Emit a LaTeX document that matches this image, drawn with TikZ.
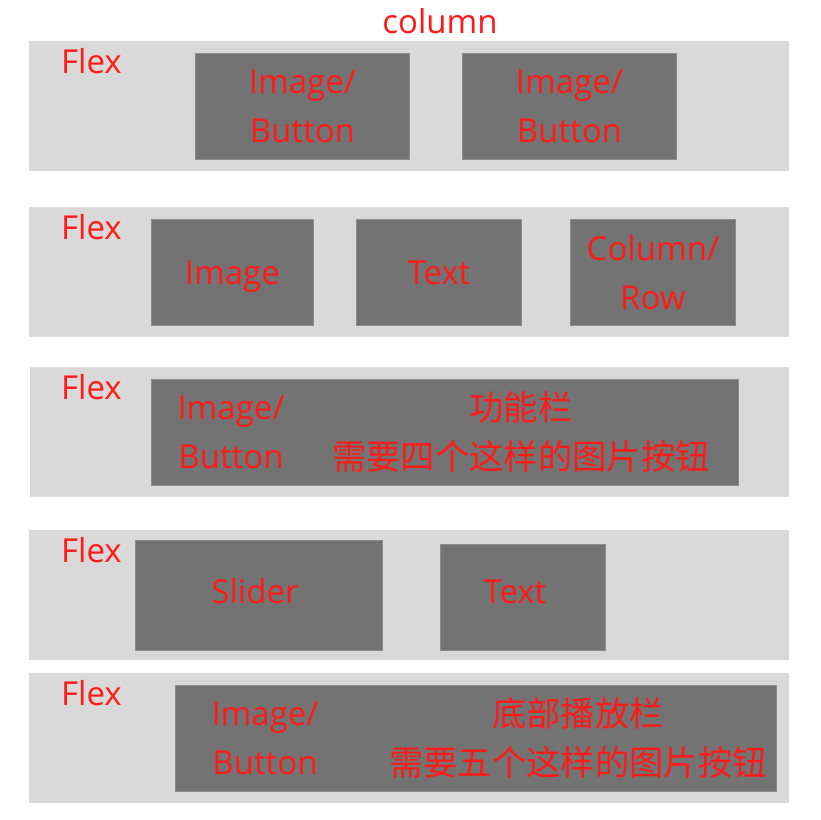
\documentclass[tikz,border=0pt]{standalone}
\usepackage{fontspec}
\setmainfont{Open Sans}
\newfontfamily\cjk[Scale=1.04]{Noto Sans CJK SC}
\usepackage{tikz}
\usetikzlibrary{positioning}
\definecolor{flexgray}{HTML}{D9D9D9}
\definecolor{boxgray}{HTML}{737373}
\definecolor{edgegray}{HTML}{8C8C8C}
\definecolor{textred}{HTML}{FF1A1A}
\tikzstyle{flex} = [rectangle, fill=flexgray, draw=none, minimum width=760pt, minimum height=130pt, anchor=north west, inner sep=0pt]
\tikzstyle{element} = [rectangle, fill=boxgray, draw=edgegray, line width=0.8pt, anchor=north west, inner sep=0pt, minimum height=106pt]
\tikzstyle{redtext} = [text=textred, font=\fontsize{33}{49}\selectfont, align=center, inner sep=0pt]
\tikzstyle{oneline} = [text height=24pt, text depth=0pt]
\tikzstyle{flexname} = [redtext, anchor=base west]

\begin{document}
\begin{tikzpicture}
			[x=1pt, y=-1pt]
			\useasboundingbox (0,0) rectangle (820,820);
			\node[redtext, anchor=base] (title) at (440,33) {column};
			
			% row 1
			\node[flex] (rowA) at (29,41) {};
			\node[flexname] (flexA) at (61,73) {Flex};
			\node[element, redtext, minimum width=214pt] (btnA) at (195,53) {Image/\\Button};
			\node[element, redtext, minimum width=214pt] (btnB) at (462,53) {Image/\\Button};
			
			% row 2
			\node[flex] (rowB) at (29,207) {};
			\node[flexname] (flexB) at (61,239) {Flex};
			\node[element, redtext, oneline, minimum width=162pt] (image) at (151,219) {Image};
			\node[element, redtext, oneline, minimum width=165pt] (textA) at (356,219) {Text};
			\node[element, redtext, minimum width=165pt] (colrow) at (570,219) {Column/\\Row};
			
			% row 3
			\node[flex, minimum width=759pt] (rowC) at (30,367) {};
			\node[flexname] (flexC) at (61,399) {Flex};
			\node[element, minimum width=587pt] (funcbar) at (151,379) {};
			\node[redtext] (funcbtn) at (231,432) {Image/\\Button};
			\node[redtext] (funcinfo) at (521,432) {\cjk 功能栏\\\cjk 需要四个这样的图片按钮};
			
			% row 4
			\node[flex] (rowD) at (29,530) {};
			\node[flexname] (flexD) at (61,562) {Flex};
			\node[element, minimum width=247pt, minimum height=110pt] (slider) at (135,540) {};
			\node[element, minimum width=165pt] (textbox) at (440,544) {};
			\node[redtext, oneline] (slidername) at (255,591) {Slider};
			\node[redtext, oneline] (textname) at (515,591) {Text};
			
			% row 5
			\node[flex] (rowE) at (29,673) {};
			\node[flexname] (flexE) at (61,705) {Flex};
			\node[element, minimum width=601pt] (playbar) at (175,685) {};
			\node[redtext] (playbtn) at (265,738) {Image/\\Button};
			\node[redtext] (playinfo) at (578,738) {\cjk 底部播放栏\\\cjk 需要五个这样的图片按钮};
			\end{tikzpicture}
\end{document}
